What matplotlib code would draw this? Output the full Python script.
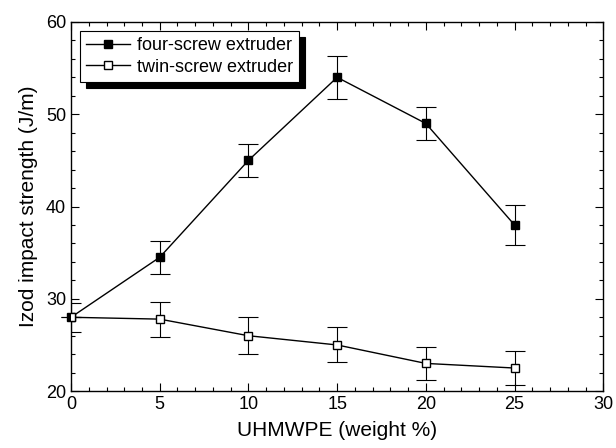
import numpy as np
import matplotlib.pyplot as plt
from matplotlib.ticker import MultipleLocator

plt.rcParams['font.family'] = ['Liberation Sans', 'DejaVu Sans']

# UHMWPE content (weight %)
wt = [0, 5, 10, 15, 20, 25]

# four-screw extruder
four = [28.0, 34.5, 45.0, 54.0, 49.0, 38.0]
four_err = [0.0, 1.8, 1.8, 2.3, 1.8, 2.2]

# twin-screw extruder
twin = [28.0, 27.8, 26.0, 25.0, 23.0, 22.5]
twin_err = [1.6, 1.9, 2.0, 1.9, 1.8, 1.8]

fig = plt.figure(figsize=(6.16, 4.48), dpi=100)
ax = fig.add_axes([0.1153, 0.127, 0.864, 0.824])

# error bars (no legend entry)
ax.errorbar(wt, four, yerr=four_err, fmt='none', ecolor='black',
            elinewidth=0.8, capsize=7, capthick=0.8, clip_on=False)
ax.errorbar(wt, twin, yerr=twin_err, fmt='none', ecolor='black',
            elinewidth=0.8, capsize=7, capthick=0.8)

ax.plot(wt, four, color='black', marker='s', ms=6, mfc='black', mec='black',
        lw=1, label='four-screw extruder', clip_on=False, zorder=3)
ax.plot(wt, twin, color='black', marker='s', ms=6, mfc='white', mec='black',
        lw=1, label='twin-screw extruder', zorder=3)

ax.set_xlim(0, 30)
ax.set_ylim(20, 60)
ax.xaxis.set_major_locator(MultipleLocator(5))
ax.xaxis.set_minor_locator(MultipleLocator(1))
ax.yaxis.set_major_locator(MultipleLocator(10))
ax.yaxis.set_minor_locator(MultipleLocator(2))
ax.tick_params(which='both', direction='in', top=True, right=True,
               labelsize=13, width=0.8)
ax.tick_params(which='major', length=6)
ax.tick_params(which='minor', length=3)
for s in ax.spines.values():
    s.set_linewidth(1.0)

ax.set_xlabel('UHMWPE (weight %)', fontsize=15, labelpad=6)
ax.set_ylabel('Izod impact strength (J/m)', fontsize=15, labelpad=6)

leg = ax.legend(loc='upper left', fontsize=13, fancybox=False,
                shadow={'ox': 4, 'oy': -4, 'facecolor': 'black',
                        'edgecolor': 'black', 'alpha': 1},
                edgecolor='black', framealpha=1, handlelength=2.4,
                handletextpad=0.4, borderaxespad=0.5, labelspacing=0.25,
                borderpad=0.35)
leg.get_frame().set_linewidth(0.8)

plt.savefig('out.png', dpi=100)
